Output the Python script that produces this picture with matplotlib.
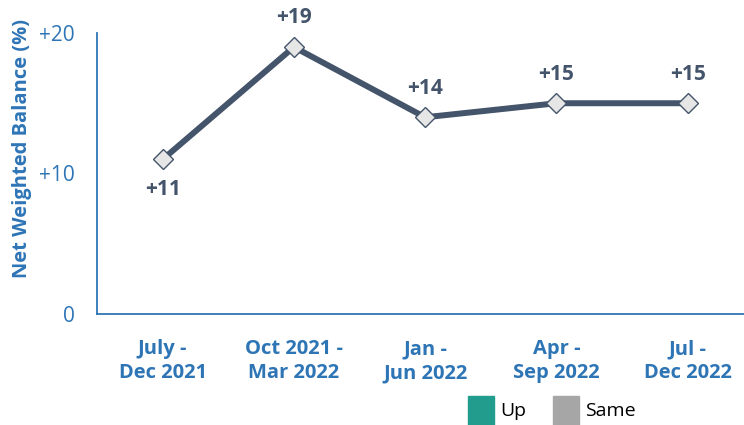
import matplotlib.pyplot as plt
from matplotlib.patches import Rectangle

plt.rcParams['font.family'] = ['Open Sans', 'DejaVu Sans']

# data
periods = ["July -\nDec 2021", "Oct 2021 -\nMar 2022", "Jan -\nJun 2022",
           "Apr -\nSep 2022", "Jul -\nDec 2022"]
balance = [11, 19, 14, 15, 15]
label_above = [False, True, True, True, True]
yticks = [0, 10, 20]
ytick_labels = ["0", "+10", "+20"]
legend_names = ["Up", "Same"]
legend_colors = ["#229C8C", "#A6A6A6"]

axis_blue = "#2E75B6"
line_col = "#44546A"

fig = plt.figure(figsize=(7.44, 4.25), dpi=100)
ax = fig.add_axes([0.1304, 0.2612, 0.8696, 0.6612])

x = list(range(len(periods)))
ax.plot(x, balance, color=line_col, lw=4.3, marker="D", ms=10,
        mfc="#E7E6E6", mec=line_col, mew=1, zorder=3)

for xi, v, up in zip(x, balance, label_above):
    off = 21 if up else -22
    ax.annotate(f"+{v}", (xi, v), xytext=(0, off), textcoords="offset points",
                ha="center", va="center", fontsize=15, fontweight="bold",
                color=line_col)

ax.set_xlim(-0.5, 4.43)
ax.set_ylim(0, 20)
ax.set_xticks(x)
ax.set_xticklabels(periods, fontsize=14.5, fontweight="bold", color=axis_blue,
                   linespacing=1.3)
ax.set_yticks(yticks)
ax.set_yticklabels(ytick_labels, fontsize=15, color=axis_blue)
ax.tick_params(axis="both", length=0)
ax.tick_params(axis="y", pad=16)
ax.tick_params(axis="x", pad=18)

for s in ["top", "right"]:
    ax.spines[s].set_visible(False)
for s in ["left", "bottom"]:
    ax.spines[s].set_color(axis_blue)
    ax.spines[s].set_linewidth(1.3)

fig.text(0.030, 0.65, "Net Weighted Balance (%)", rotation=90, ha="center",
         va="center", fontsize=14.5, fontweight="bold", color=axis_blue)

# legend boxes
leg_x = [468, 553]
for lx, name, col in zip(leg_x, legend_names, legend_colors):
    fig.patches.append(Rectangle((lx / 744, 0), 26 / 744, 29 / 425,
                                 transform=fig.transFigure, color=col))
    fig.text((lx + 32) / 744, 0.033, name, fontsize=14, color="black",
             va="center", ha="left")

fig.savefig("out.png", dpi=100)
